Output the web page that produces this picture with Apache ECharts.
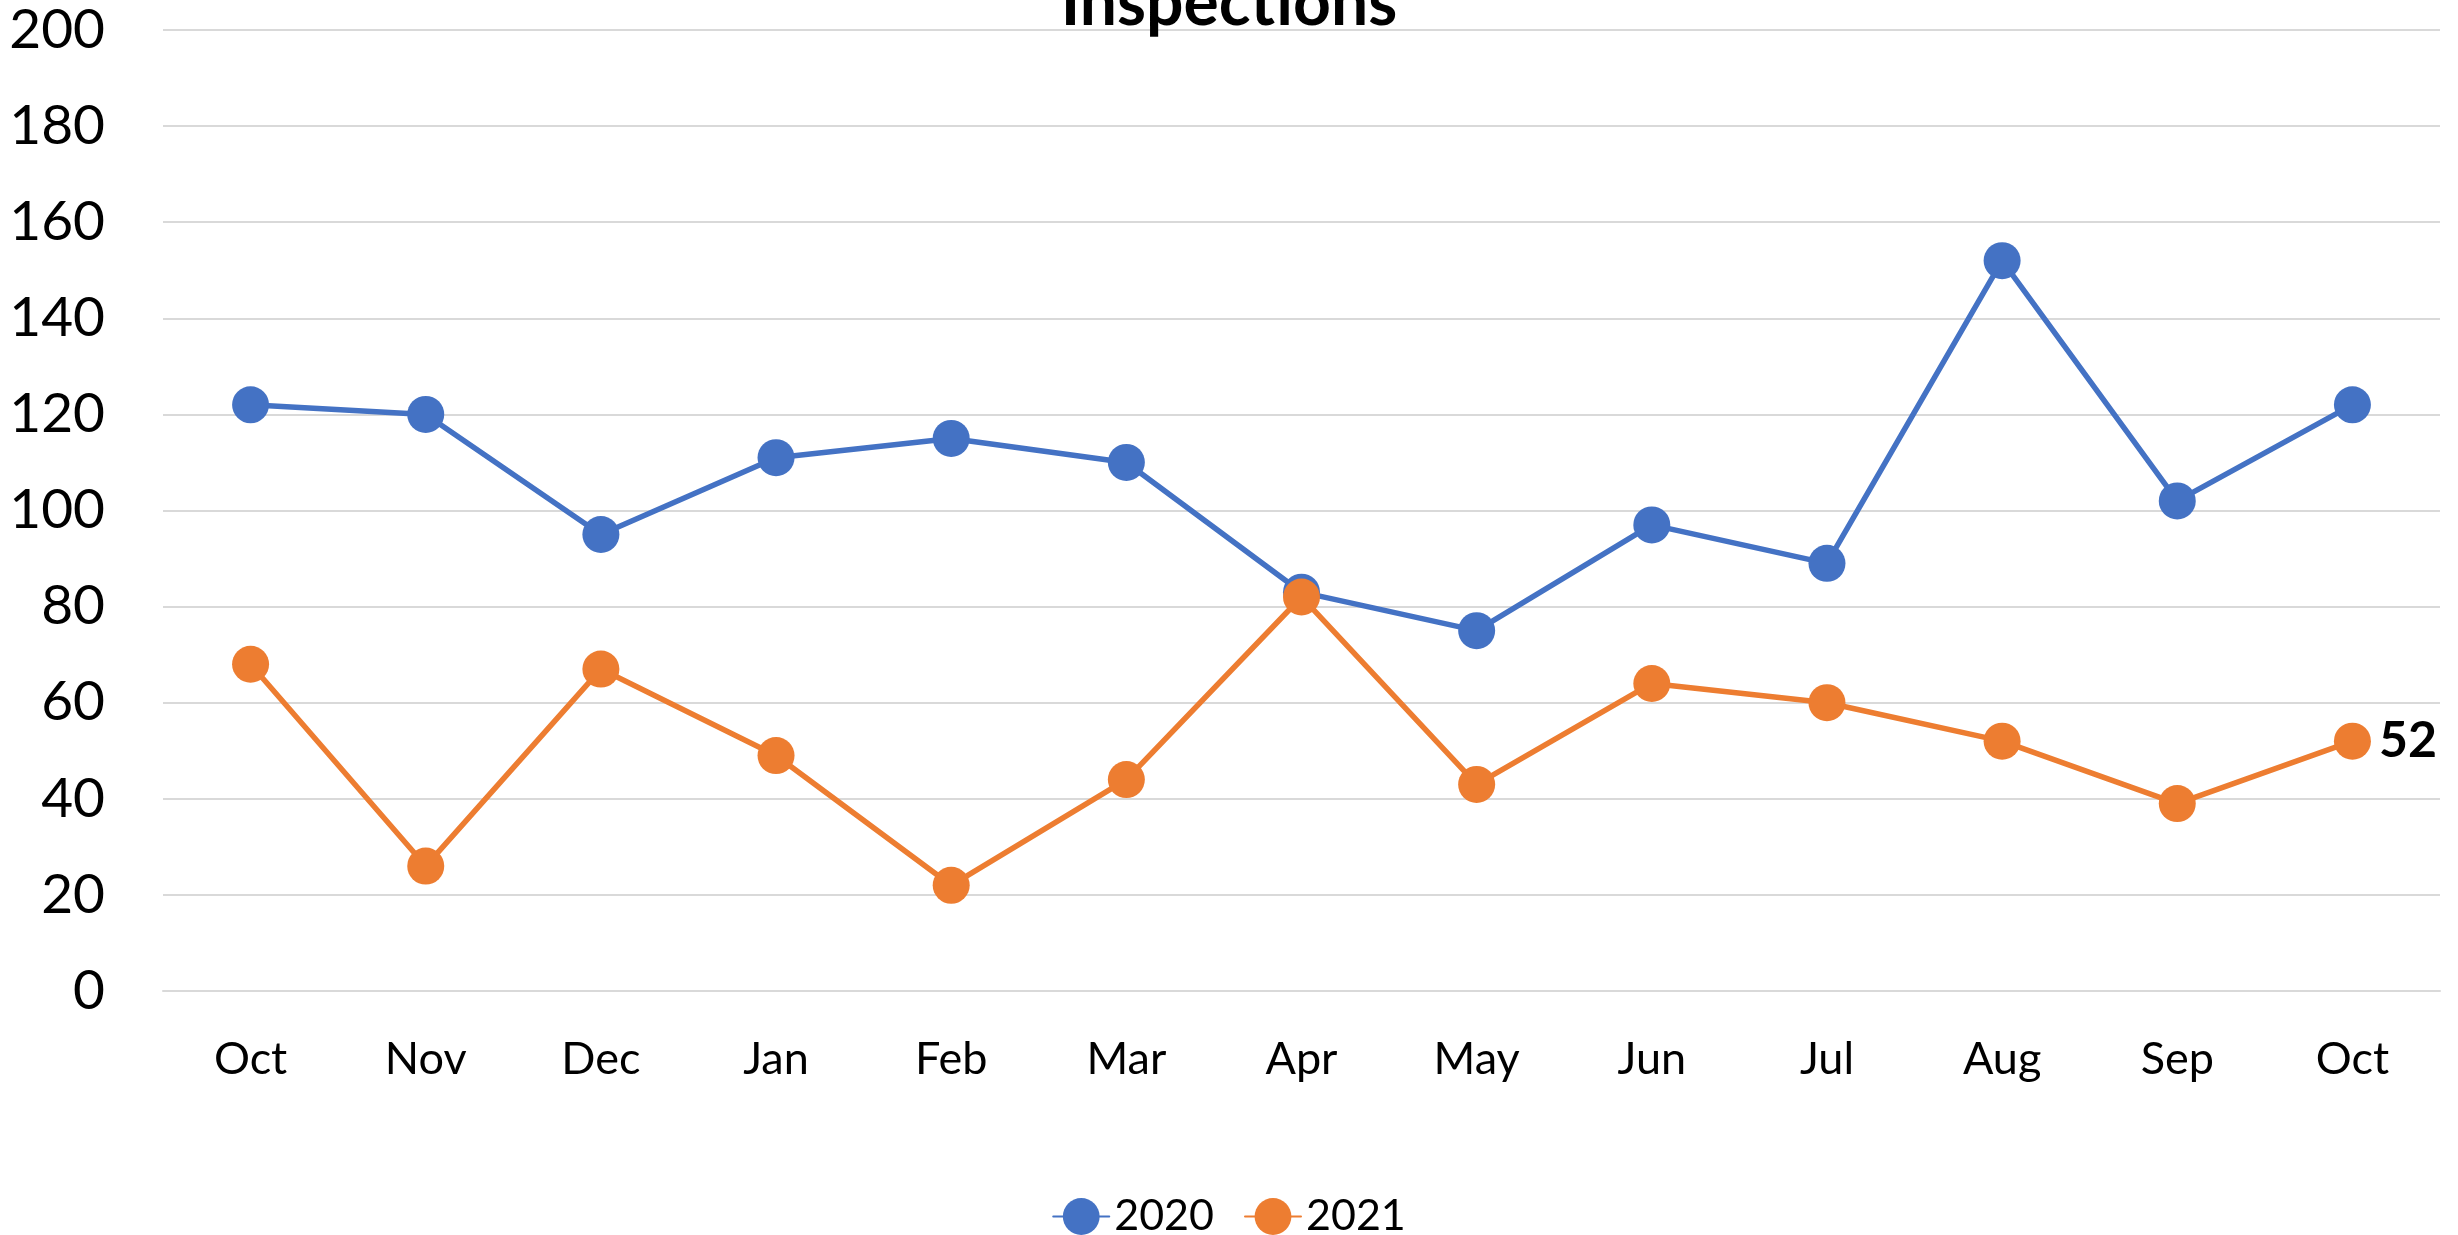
<!DOCTYPE html>
<html>
<head>
<meta charset="utf-8">
<title>Inspections</title>
<script src="https://cdn.jsdelivr.net/npm/echarts@6/dist/echarts.min.js"></script>
<style>
  html, body { margin: 0; padding: 0; background: #fff; }
  #chart { width: 2458px; height: 1235px; }
</style>
</head>
<body>
<div id="chart"></div>
<script>
  // data
  var months = ['Oct', 'Nov', 'Dec', 'Jan', 'Feb', 'Mar', 'Apr', 'May', 'Jun', 'Jul', 'Aug', 'Sep', 'Oct'];
  var values2020 = [122, 120, 95, 111, 115, 110, 83, 75, 97, 89, 152, 102, 122];
  var values2021 = [68, 26, 67, 49, 22, 44, 82, 43, 64, 60, 52, 39, 52];
  var yTicks = [0, 20, 40, 60, 80, 100, 120, 140, 160, 180, 200];

  var font = 'Lato';
  var chart = echarts.init(document.getElementById('chart'));

  // only the last 2021 point carries a label
  var data2021 = values2021.map(function (v, i) {
    if (i === values2021.length - 1) {
      return {
        value: v,
        label: {
          show: true,
          position: 'right',
          distance: 8,
          fontFamily: font,
          fontWeight: 'bold',
          fontSize: 50,
          color: '#000'
        }
      };
    }
    return v;
  });

  chart.setOption({
    animation: false,
    backgroundColor: '#fff',
    title: {
      text: 'Inspections',
      left: 'center',
      top: -34,
      textStyle: { fontFamily: font, fontWeight: 'bold', fontSize: 66, color: '#000' }
    },
    grid: { left: 163, right: 18, top: 30, bottom: 244 },
    legend: {
      top: 1190,
      left: 'center',
      itemWidth: 56,
      itemHeight: 46,
      itemGap: 30,
      textStyle: { fontFamily: font, fontSize: 43, color: '#000' },
      data: ['2020', '2021']
    },
    xAxis: {
      type: 'category',
      data: months,
      boundaryGap: true,
      axisLine: { show: true, lineStyle: { color: '#d9d9d9', width: 2 } },
      axisTick: { show: false },
      axisLabel: { fontFamily: font, fontSize: 45, color: '#000', margin: 46 }
    },
    yAxis: {
      type: 'value',
      min: yTicks[0],
      max: yTicks[yTicks.length - 1],
      interval: yTicks[1] - yTicks[0],
      axisLine: { show: false },
      axisTick: { show: false },
      splitLine: { lineStyle: { color: '#d9d9d9', width: 2 } },
      axisLabel: { fontFamily: font, fontSize: 55, color: '#000', margin: 58 }
    },
    series: [
      {
        name: '2020',
        type: 'line',
        data: values2020,
        symbol: 'circle',
        symbolSize: 37,
        color: '#4472C4',
        lineStyle: { width: 5.5, color: '#4472C4', cap: 'round' },
        itemStyle: { color: '#4472C4' }
      },
      {
        name: '2021',
        type: 'line',
        data: data2021,
        symbol: 'circle',
        symbolSize: 37,
        color: '#ED7D31',
        lineStyle: { width: 5.5, color: '#ED7D31', cap: 'round' },
        itemStyle: { color: '#ED7D31' }
      }
    ]
  });
</script>
</body>
</html>
